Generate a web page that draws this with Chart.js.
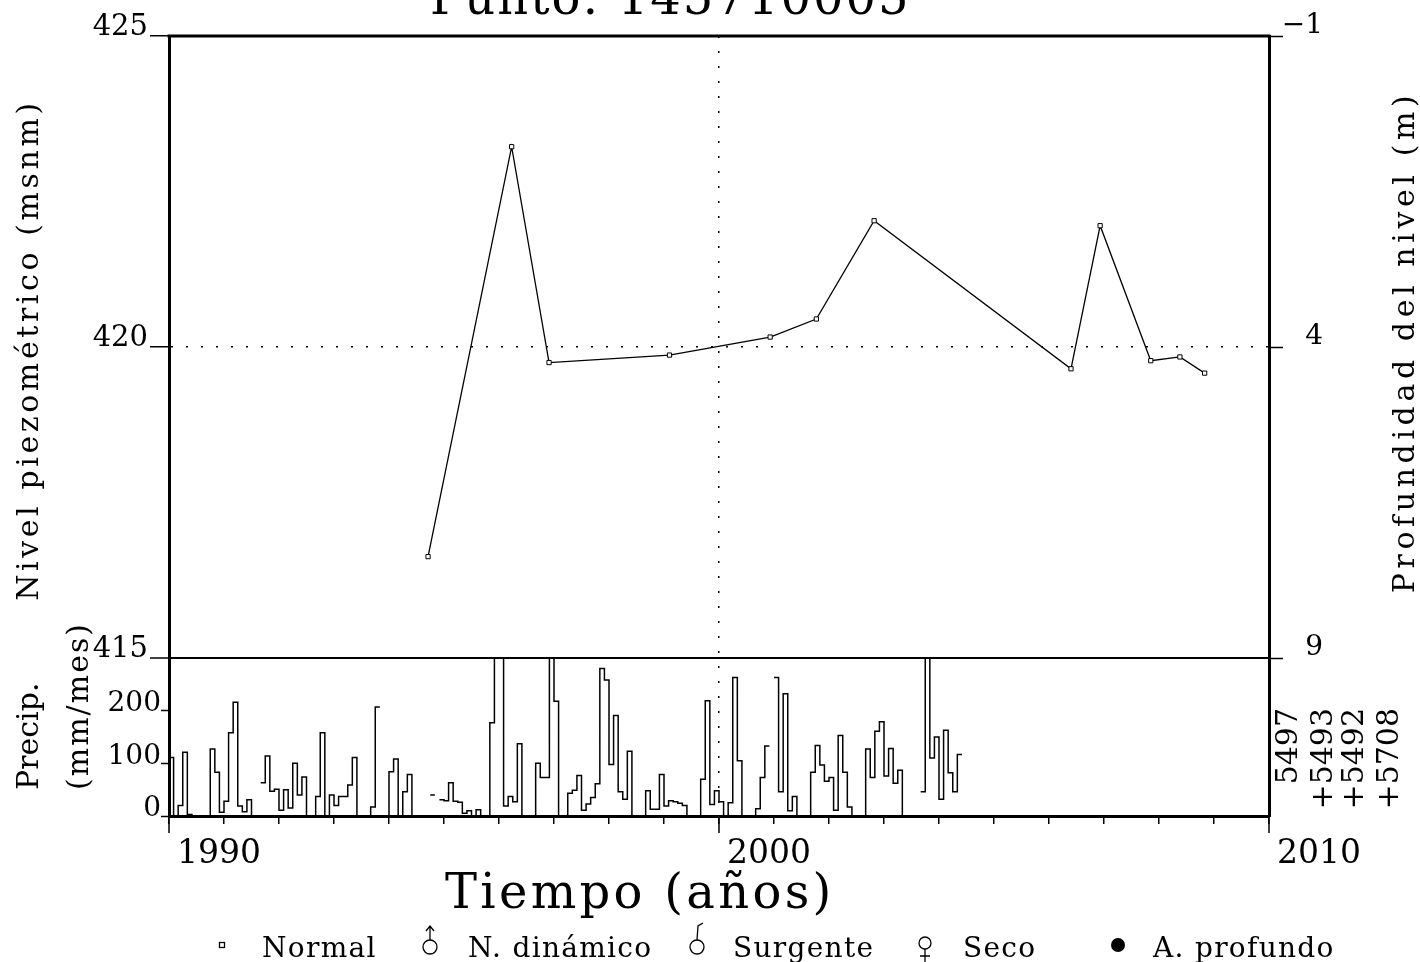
<!DOCTYPE html>
<html>
<head>
<meta charset="utf-8">
<script src="https://cdn.jsdelivr.net/npm/chart.js@4.4.1/dist/chart.umd.min.js"></script>
<style>
    html, body { margin: 0; padding: 0; background: #fff; }
    #wrap { width: 1420px; height: 962px; }
</style>
</head>
<body>
<div id="wrap"><canvas id="hidroChart" width="1420" height="962"></canvas></div>
<script>
// Nivel piezometrico (msnm), fechas en anios decimales
const fechasNivel = [1994.71, 1996.23, 1996.91, 1999.10, 2000.93, 2001.77, 2002.82, 2006.40, 2006.93, 2007.85, 2008.38, 2008.83];
const nivel = [416.63, 423.22, 419.75, 419.87, 420.16, 420.45, 422.03, 419.65, 421.95, 419.78, 419.84, 419.58];

// Precipitacion mensual (mm/mes) desde enero de 1990, null = sin dato
const precipInicio = 1990;
const precipMensual = [
    111, 0, 20, 121, 3, 0, 0, 0, 0, 127, 83, 7,          // 1990
    28, 158, 216, 19, 8, 31, 0, null, 63, 114, 47, 51,    // 1991
    11, 50, 15, 100, 40, 74, 0, 0, 37, 158, 0, 40,        // 1992
    20, 37, 37, 59, 111, 0, 0, 0, 17, 207, null, 0,       // 1993
    84, 108, 0, 46, 79, 0, 0, 0, null, 40, null, 31,      // 1994
    29, 63, 28, 26, 5, 10, 0, 12, 0, 0, 177, 380,         // 1995
    330, 19, 37, 27, 137, 0, 0, 0, 100, 73, 73, 340,      // 1996
    218, 0, 0, 43, 49, 77, 11, 23, 35, 61, 280, 258,      // 1997
    98, 191, 46, 32, 123, 0, 0, 0, 48, 13, 13, 79,        // 1998
    19, 29, 27, 24, 20, 0, 0, 0, 70, 219, 22, 48,         // 1999
    27, 0, 25, 263, 105, 0, 0, 0, 14, 73, 133, null,      // 2000
    263, 46, 232, 10, 37, 0, 0, 0, 83, 134, 97, 66,       // 2001
    73, 11, 153, 83, 17, 0, 0, 0, 127, 73, 161, 179,      // 2002
    76, 128, 62, 87, 0, 0, 0, null, 46, 330, 110, 150,    // 2003
    32, 163, 82, 46, 117                                  // 2004
];

const ticksAnios = [1990, 1991, 1992, 1993, 1994, 1995, 1996, 1997, 1998, 1999, 2000,
                    2001, 2002, 2003, 2004, 2005, 2006, 2007, 2008, 2009, 2010];
const etiquetasAnios = [1990, 2000, 2010];
const ticksNivel = [415, 420, 425];
const ticksProf = [-1, 4, 9];
const ticksPrecip = [0, 100, 200];
const topePrecip = 300;
const totalesPrecip = ['5497', '+5493', '+5492', '+5708'];
const leyenda = ['Normal', 'N. din\u00e1mico', 'Surgente', 'Seco', 'A. profundo'];

// alto relativo de los dos paneles (nivel arriba, lluvia abajo)
const pesoNivel = 622;
const pesoPrecip = 158;
const extraProf = 10 * pesoPrecip / pesoNivel;

const FUENTE = "'DejaVu Serif', serif";
Chart.defaults.font.family = FUENTE;
Chart.defaults.color = '#000';

// escalones: dos puntos por mes, un null corta la linea
let seriePrecip = [];
precipMensual.forEach(function(v, i) {
    let t0 = precipInicio + i / 12;
    let t1 = precipInicio + (i + 1) / 12;
    if (v === null) {
        seriePrecip.push({ x: t0, y: null });
    } else {
        seriePrecip.push({ x: t0, y: v });
        seriePrecip.push({ x: t1, y: v });
    }
});

function tickVal(c) { return c.tick ? c.tick.value : null; }
function fijarTicks(lista) {
    return function(s) { s.ticks = lista.map(function(v) { return { value: v }; }); };
}

function rotado(ctx, texto, x, y, align, size, spacing) {
    ctx.save();
    ctx.translate(x, y);
    ctx.rotate(-Math.PI / 2);
    ctx.font = size + 'px ' + FUENTE;
    ctx.textAlign = align;
    ctx.textBaseline = 'alphabetic';
    ctx.letterSpacing = (spacing || 0) + 'px';
    ctx.fillText(texto, 0, 0);
    ctx.restore();
}

function recto(ctx, texto, x, y, size, spacing) {
    ctx.save();
    ctx.font = size + 'px ' + FUENTE;
    ctx.textAlign = 'left';
    ctx.textBaseline = 'alphabetic';
    ctx.letterSpacing = (spacing || 0) + 'px';
    ctx.fillText(texto, x, y);
    ctx.restore();
}

// recorta la lluvia a su panel
const recortePrecip = {
    id: 'recortePrecip',
    beforeDatasetDraw(chart, args) {
        if (args.meta.yAxisID !== 'yP') return;
        const ctx = chart.ctx, a = chart.chartArea;
        const top = chart.scales.yP.getPixelForValue(topePrecip);
        ctx.save();
        ctx.beginPath();
        ctx.rect(a.left, top, a.right - a.left, a.bottom - top);
        ctx.clip();
    },
    afterDatasetDraw(chart, args) {
        if (args.meta.yAxisID === 'yP') chart.ctx.restore();
    }
};

// marco superior, ticks largos y textos
const adornos = {
    id: 'adornos',
    afterDraw(chart) {
        const ctx = chart.ctx, a = chart.chartArea, sx = chart.scales.x;
        ctx.save();
        ctx.strokeStyle = '#000';
        ctx.lineWidth = 3;
        ctx.beginPath();
        ctx.moveTo(a.left - 1.5, a.top);
        ctx.lineTo(a.right + 1.5, a.top);
        ctx.stroke();
        ctx.lineWidth = 1.5;
        etiquetasAnios.forEach(function(v) {
            const px = sx.getPixelForValue(v);
            ctx.beginPath();
            ctx.moveTo(px, a.bottom);
            ctx.lineTo(px, a.bottom + 17);
            ctx.stroke();
        });
        ctx.restore();

        ctx.fillStyle = '#000';
        recto(ctx, 'Punto: 145710005', 430, 14, 48, 2);
        recto(ctx, 'Tiempo (a\u00f1os)', 445, 908, 48, 3.3);

        rotado(ctx, 'Nivel piezom\u00e9trico (msnm)', 38, 350, 'center', 30, 3.6);
        rotado(ctx, 'Precip.', 38, 790, 'left', 30, 0);
        rotado(ctx, '(mm/mes)', 88, 790, 'left', 30, 2);
        rotado(ctx, 'Profundidad del nivel (m)', 1414, 342, 'center', 30, 4.6);
        const xs = [1297, 1332, 1363, 1398];
        totalesPrecip.forEach(function(t, i) {
            rotado(ctx, t, xs[i], 708, 'right', 30, 0);
        });

        // leyenda
        const yl = 957;
        const xt = [262, 468, 733, 963, 1153];
        leyenda.forEach(function(t, i) { recto(ctx, t, xt[i], yl, 28, 1.3); });
        ctx.save();
        ctx.strokeStyle = '#000';
        ctx.fillStyle = '#000';
        ctx.lineWidth = 1.3;
        ctx.strokeRect(219.5, 942.5, 5, 5);
        // nivel dinamico
        ctx.beginPath(); ctx.arc(430, 947, 7, 0, 2 * Math.PI); ctx.stroke();
        ctx.beginPath();
        ctx.moveTo(430, 940); ctx.lineTo(430, 926);
        ctx.moveTo(426, 931); ctx.lineTo(430, 926); ctx.lineTo(434, 931);
        ctx.stroke();
        // surgente
        ctx.beginPath(); ctx.arc(697, 947, 7, 0, 2 * Math.PI); ctx.stroke();
        ctx.beginPath();
        ctx.moveTo(697, 940); ctx.lineTo(698, 926); ctx.lineTo(703, 923);
        ctx.stroke();
        // seco
        ctx.beginPath(); ctx.arc(925, 943, 6, 0, 2 * Math.PI); ctx.stroke();
        ctx.beginPath();
        ctx.moveTo(925, 949); ctx.lineTo(925, 962);
        ctx.moveTo(920, 956); ctx.lineTo(930, 956);
        ctx.stroke();
        // profundo
        ctx.beginPath(); ctx.arc(1118, 945, 7, 0, 2 * Math.PI); ctx.fill();
        ctx.restore();
    }
};

let ctx = document.getElementById('hidroChart').getContext('2d');
new Chart(ctx, {
    type: 'line',
    data: {
        datasets: [{
            label: 'Nivel',
            data: fechasNivel.map(function(f, i) { return { x: f, y: nivel[i] }; }),
            xAxisID: 'x',
            yAxisID: 'y',
            borderColor: '#000',
            borderWidth: 1.3,
            pointStyle: 'rect',
            pointRadius: 3,
            pointBorderWidth: 1,
            pointBackgroundColor: '#fff',
            pointBorderColor: '#000',
            tension: 0
        }, {
            label: 'Precipitacion',
            data: seriePrecip,
            xAxisID: 'x',
            yAxisID: 'yP',
            borderColor: '#000',
            borderWidth: 1.5,
            pointRadius: 0,
            tension: 0,
            spanGaps: false
        }]
    },
    options: {
        responsive: false,
        animation: false,
        devicePixelRatio: 1,
        layout: { padding: { top: 36, left: 0, right: 97, bottom: 0 } },
        plugins: { legend: { display: false }, tooltip: { enabled: false } },
        scales: {
            x: {
                type: 'linear', position: 'bottom', min: 1990, max: 2010,
                afterBuildTicks: fijarTicks(ticksAnios),
                afterFit: function(s) { s.height = 146; },
                ticks: {
                    autoSkip: false, maxRotation: 0, align: 'start', labelOffset: 8, padding: 11,
                    font: { size: 33 },
                    callback: function(v) { return etiquetasAnios.includes(v) ? String(v) : ''; }
                },
                grid: {
                    color: function(c) { return tickVal(c) === 2000 ? '#000' : 'rgba(0,0,0,0)'; },
                    lineWidth: 1.5, tickColor: '#000', tickLength: 8, tickWidth: 1.5
                },
                border: { color: '#000', width: 3, dash: function(c) { return tickVal(c) === 2000 ? [2, 13] : []; } }
            },
            y: {
                type: 'linear', position: 'left', stack: 'izq', stackWeight: pesoNivel, weight: 1,
                min: 415, max: 425,
                afterBuildTicks: fijarTicks(ticksNivel),
                afterFit: function(s) { s.width = 169; },
                ticks: { font: { size: 29 }, padding: 2, labelOffset: -9 },
                grid: {
                    color: function(c) { const v = tickVal(c); return (v === 420 || v === 415) ? '#000' : 'rgba(0,0,0,0)'; },
                    lineWidth: function(c) { return tickVal(c) === 415 ? 2 : 1.5; },
                    tickColor: '#000', tickLength: 19, tickWidth: 1.5
                },
                border: { color: '#000', width: 3, dash: function(c) { return tickVal(c) === 420 ? [2, 13] : []; } }
            },
            yP: {
                type: 'linear', position: 'left', stack: 'izq', stackWeight: pesoPrecip, weight: 0,
                min: 0, max: topePrecip,
                afterBuildTicks: fijarTicks(ticksPrecip),
                afterFit: function(s) { s.width = 169; },
                ticks: { font: { size: 28 }, padding: 0, labelOffset: -7 },
                grid: { drawOnChartArea: false, tickColor: '#000', tickLength: 8, tickWidth: 1.5 },
                border: { color: '#000', width: 3 }
            },
            yR: {
                type: 'linear', position: 'right', reverse: true, min: -1, max: 9 + extraProf,
                afterBuildTicks: fijarTicks(ticksProf),
                afterFit: function(s) { s.width = 54; },
                ticks: {
                    font: { size: 28 }, padding: 0, crossAlign: 'far', labelOffset: -10,
                    callback: function(v) { return v < 0 ? '\u2212' + Math.abs(v) : String(v); }
                },
                grid: { drawOnChartArea: false, tickColor: '#000', tickLength: 14, tickWidth: 1.5 },
                border: { color: '#000', width: 3 }
            }
        }
    },
    plugins: [recortePrecip, adornos]
});
</script>
</body>
</html>
